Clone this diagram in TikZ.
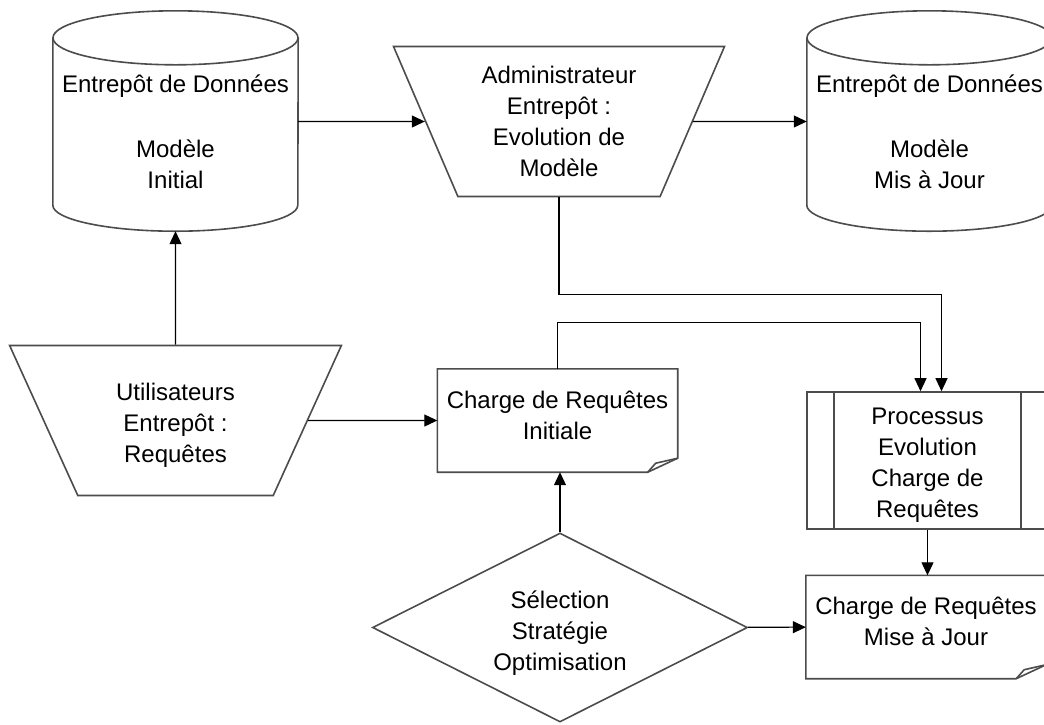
\documentclass[tikz,border=0pt]{standalone}
\usepackage{fontspec}
\setmainfont{Liberation Sans}
\usetikzlibrary{shapes, arrows.meta, positioning, shapes.geometric}
\tikzset{%
  shapeline/.style={draw=black!70, line width=1.6pt},
  dbbody/.style={rectangle, minimum width=245pt, minimum height=167pt, align=center, inner sep=0pt},
  trapblock/.style={trapezium, trapezium left angle=114, trapezium right angle=114, trapezium stretches=true, shapeline, minimum width=332pt, minimum height=150pt, align=center, inner sep=0pt},
  docblock/.style={rectangle, minimum width=240pt, minimum height=103pt, align=center, text depth=11pt},
  procblock/.style={rectangle, shapeline, minimum width=241pt, minimum height=137pt, align=center},
  decision/.style={diamond, shapeline, aspect=2, minimum width=375pt, minimum height=189pt, align=center, inner sep=0pt},
  line/.style={draw, -{Triangle[length=13pt, width=12pt]}, line width=1.1pt}}
\begin{document}
\begin{tikzpicture}[x=1pt, y=-1pt, font=\fontsize{24}{31}\selectfont]
  \fill [white] (0,0) rectangle (1044,724);
  \useasboundingbox (0,0) rectangle (1044,724);
  % data warehouse
  \node [dbbody] (cylInit) at (175.5, 121.5) {\rule{0pt}{38pt}Entrepôt de Données\\[34pt]Modèle\\Initial};
  \node [dbbody] (cylMaj) at (929.5, 121.5) {\rule{0pt}{38pt}Entrepôt de Données\\[34pt]Modèle\\Mis à Jour};
  \foreach \c in {cylInit, cylMaj} {
    \draw [shapeline] (\c.north west) -- (\c.south west)
      arc [start angle=180, end angle=360, x radius=122.5pt, y radius=26pt] -- (\c.north east);
    \draw [shapeline] (\c.north) ellipse [x radius=122.5pt, y radius=27pt];
  }
  % actors
  \node [trapblock] (admin) at (559, 121.5) {Administrateur\\Entrepôt :\\Evolution de\\Modèle};
  \node [trapblock] (users) at (175.5, 420.5) {\rule{0pt}{26pt}Utilisateurs\\Entrepôt :\\Requêtes};
  % query workloads
  \node [docblock] (chargeInit) at (557.5, 420.5) {Charge de Requêtes\\Initiale};
  \node [docblock] (chargeMaj) at (926, 627) {Charge de Requêtes\\Mise à Jour};
  \foreach \d in {chargeInit, chargeMaj} {
    \draw [shapeline] (\d.north west) -- (\d.north east) -- ([yshift=14pt]\d.south east)
      -- ([xshift=-30pt]\d.south east) -- (\d.south west) -- cycle;
    % folded corner
    \draw [shapeline] ([yshift=14pt]\d.south east) -- ([xshift=-22pt, yshift=9pt]\d.south east)
      -- ([xshift=-30pt]\d.south east);
  }
  \node [procblock] (proc) at (927.5, 460.5) {\rule{0pt}{26pt}Processus\\Evolution\\Charge de\\Requêtes};
  \draw [shapeline] ([xshift=28pt]proc.north west) -- ([xshift=28pt]proc.south west);
  \draw [shapeline] ([xshift=-28pt]proc.north east) -- ([xshift=-28pt]proc.south east);
  \node [decision] (select) at (560, 627.5) {\rule{0pt}{28pt}Sélection\\Stratégie\\Optimisation};
  % connectors
  \draw [line] (cylInit.east) -- (admin);
  \draw [line] (admin) -- (cylMaj.west);
  \draw [line] (users.north) -- ([yshift=-26pt]cylInit.south);
  \draw [line] (users) -- (chargeInit);
  \draw [line] (admin.south) -- ++(0,97) -| ([xshift=14pt]proc.north);
  \draw [line] (chargeInit.north) -- ++(0,-46) -| ([xshift=-7pt]proc.north);
  \draw [line] (select.north) -- (select.north |- chargeInit.south);
  \draw [line] (proc.south) -- (proc.south |- chargeMaj.north);
  \draw [line] (select) -- (chargeMaj);
\end{tikzpicture}
\end{document}
